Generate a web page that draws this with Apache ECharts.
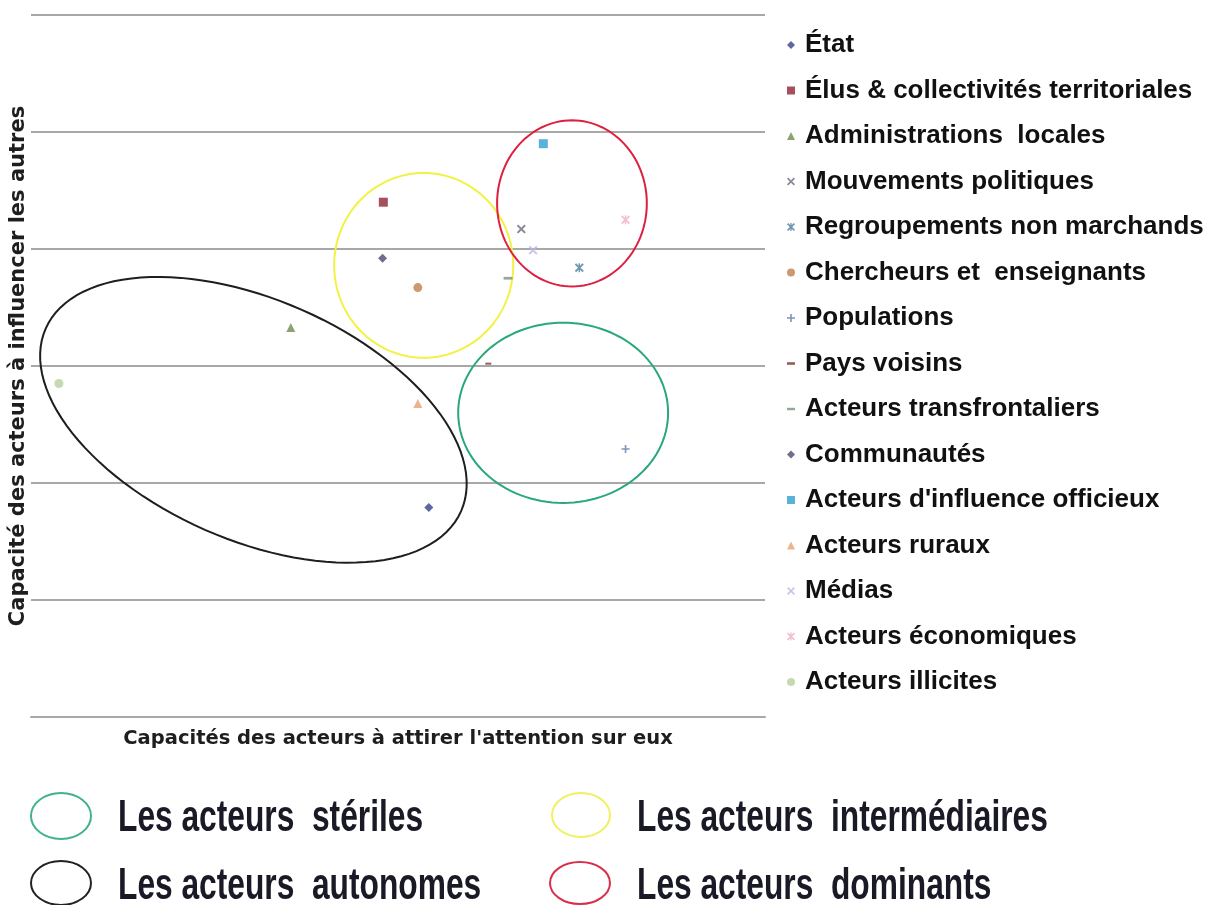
<!DOCTYPE html>
<html>
<head>
<meta charset="utf-8">
<title>Capacités des acteurs</title>
<script src="https://cdn.jsdelivr.net/npm/echarts@6/dist/echarts.min.js"></script>
<style>
html, body { margin: 0; padding: 0; background: #fff; }
#main { width: 1214px; height: 905px; }
</style>
</head>
<body>
<div id="main"></div>
<script type="text/javascript">
// acteurs et positions (x : attirer l'attention, y : influencer les autres)
var acteurs = ['État', 'Élus & collectivités territoriales', 'Administrations  locales', 'Mouvements politiques',
    'Regroupements non marchands', 'Chercheurs et  enseignants', 'Populations', 'Pays voisins',
    'Acteurs transfrontaliers', 'Communautés', 'Acteurs d\'influence officieux', 'Acteurs ruraux',
    'Médias', 'Acteurs économiques', 'Acteurs illicites'];
var attention = [5.42, 4.80, 3.54, 6.68, 7.47, 5.27, 8.10, 6.23, 6.50, 4.79, 6.98, 5.27, 6.84, 8.10, 0.38];
var influence = [1.79, 4.40, 3.33, 4.17, 3.84, 3.67, 2.29, 3.02, 3.75, 3.92, 4.90, 2.68, 3.99, 4.25, 2.85];
var yTicks = [0, 1, 2, 3, 4, 5, 6];

// groupes d'acteurs : centre et demi-axes (unités des axes)
var groupes = ['Les acteurs  autonomes', 'Les acteurs  intermédiaires', 'Les acteurs  dominants', 'Les acteurs  stériles'];
var groupeX = [3.03, 5.35, 7.37, 7.25];
var groupeY = [2.54, 3.86, 4.39, 2.60];
var groupeU = [[2.83, -0.78], [1.22, 0], [1.02, 0], [1.43, 0]];
var groupeV = [[-0.66, -0.94], [0, 0.79], [0, 0.71], [0, 0.77]];

var couleursGroupes = ['#1e1e1e', '#f2f245', '#de2040', '#2aa878'];

var P_X = 'path://M0,1.5L1.5,0L5,3.5L8.5,0L10,1.5L6.5,5L10,8.5L8.5,10L5,6.5L1.5,10L0,8.5L3.5,5Z';
var P_STAR = P_X + 'M4.2,0H5.8V10H4.2Z';
var P_PLUS = 'path://M4,0H6V4H10V6H6V10H4V6H0V4H4Z';
var marques = [
    { symbol: 'diamond', size: 9, color: '#34428a' },
    { symbol: 'rect', size: 9, color: '#8e2434' },
    { symbol: 'triangle', size: 9, color: '#6e8c4c' },
    { symbol: P_X, size: 9, color: '#6a6a80' },
    { symbol: P_STAR, size: 9, color: '#4a7e9e' },
    { symbol: 'circle', size: 9, color: '#c08050' },
    { symbol: P_PLUS, size: 8, color: '#5a7aa8' },
    { symbol: 'path://M0,0H6V2H0Z', size: 6, color: '#7a3a2a' },
    { symbol: 'path://M0,0H10V3H0Z', size: 9, color: '#7a927a' },
    { symbol: 'diamond', size: 9, color: '#4a4a70' },
    { symbol: 'rect', size: 9, color: '#30a0d0' },
    { symbol: 'triangle', size: 9, color: '#e8a070' },
    { symbol: P_X, size: 9, color: '#b8b8e0' },
    { symbol: P_STAR, size: 9, color: '#f0b0c0' },
    { symbol: 'circle', size: 9, color: '#b8d0a0' }
];

var series = acteurs.map(function (nom, i) {
    return {
        name: nom,
        type: 'scatter',
        symbol: marques[i].symbol,
        symbolSize: marques[i].size,
        symbolKeepAspect: true,
        itemStyle: { color: marques[i].color },
        z: 3,
        data: [[attention[i], influence[i]]]
    };
});

series.push({
    type: 'custom',
    silent: true,
    z: 2,
    encode: { x: 0, y: 1 },
    data: groupes.map(function (g, i) {
        return [groupeX[i], groupeY[i], groupeU[i][0], groupeU[i][1], groupeV[i][0], groupeV[i][1]];
    }),
    renderItem: function (params, api) {
        var cx = api.value(0), cy = api.value(1);
        var ux = api.value(2), uy = api.value(3), vx = api.value(4), vy = api.value(5);
        var pts = [];
        for (var k = 0; k < 120; k++) {
            var t = k / 120 * Math.PI * 2;
            pts.push(api.coord([cx + ux * Math.cos(t) + vx * Math.sin(t), cy + uy * Math.cos(t) + vy * Math.sin(t)]));
        }
        return {
            type: 'polygon',
            shape: { points: pts },
            style: { fill: 'none', stroke: couleursGroupes[params.dataIndex], lineWidth: 2 }
        };
    }
});

// légende du bas (ellipses + libellés)
var basPos = [
    { cx: 61, cy: 883, rx: 30, ry: 22, tx: 118, ty: 887 },
    { cx: 581, cy: 815, rx: 29, ry: 22, tx: 637, ty: 819 },
    { cx: 580, cy: 883, rx: 30, ry: 21, tx: 637, ty: 887 },
    { cx: 61, cy: 816, rx: 30, ry: 23, tx: 118, ty: 819 }
];
var couleursBas = ['#222222', '#f0f060', '#d8304c', '#40b488'];
var graphic = [];
groupes.forEach(function (g, i) {
    var p = basPos[i];
    graphic.push({
        type: 'ellipse',
        shape: { cx: p.cx, cy: p.cy, rx: p.rx, ry: p.ry },
        style: { fill: 'none', stroke: couleursBas[i], lineWidth: 2 }
    });
    graphic.push({
        type: 'text',
        x: p.tx,
        y: p.ty,
        scaleX: 0.705,
        style: {
            text: g,
            font: 'bold 45px "Liberation Sans", Arial, sans-serif',
            fill: '#1a1a26',
            verticalAlign: 'middle'
        }
    });
});

var chart = echarts.init(document.getElementById('main'));
var option = {
    backgroundColor: '#ffffff',
    animation: false,
    grid: { left: 30, right: 449, top: 15, bottom: 188 },
    legend: {
        data: acteurs,
        orient: 'vertical',
        left: 787,
        top: 32,
        padding: 0,
        itemWidth: 8,
        itemHeight: 8,
        itemGap: 19.5,
        selectedMode: false,
        textStyle: {
            fontFamily: '"Liberation Sans", Arial, sans-serif',
            fontWeight: 'bold',
            fontSize: 26,
            lineHeight: 26,
            color: '#111111',
            padding: [0, 0, 0, 5]
        }
    },
    xAxis: {
        type: 'value',
        min: 0,
        max: 10,
        name: 'Capacités des acteurs à attirer l\'attention sur eux',
        nameLocation: 'middle',
        nameGap: 12,
        nameTextStyle: { fontFamily: '"DejaVu Sans", Verdana, sans-serif', fontWeight: 'bold', fontSize: 19.5, color: '#1e1e1e' },
        axisLine: { show: true, lineStyle: { color: '#a8a8a8', width: 2 } },
        axisTick: { show: false },
        axisLabel: { show: false },
        splitLine: { show: false }
    },
    yAxis: {
        type: 'value',
        min: yTicks[0],
        max: yTicks[yTicks.length - 1],
        interval: 1,
        name: 'Capacité des acteurs à influencer les autres',
        nameLocation: 'middle',
        nameGap: 2,
        nameTextStyle: { fontFamily: '"DejaVu Sans", Verdana, sans-serif', fontWeight: 'bold', fontSize: 21, color: '#1e1e1e' },
        axisLine: { show: false },
        axisTick: { show: false },
        axisLabel: { show: false },
        splitLine: { show: true, lineStyle: { color: '#a8a8a8', width: 2 } }
    },
    graphic: graphic,
    series: series
};
chart.setOption(option);
</script>
</body>
</html>
